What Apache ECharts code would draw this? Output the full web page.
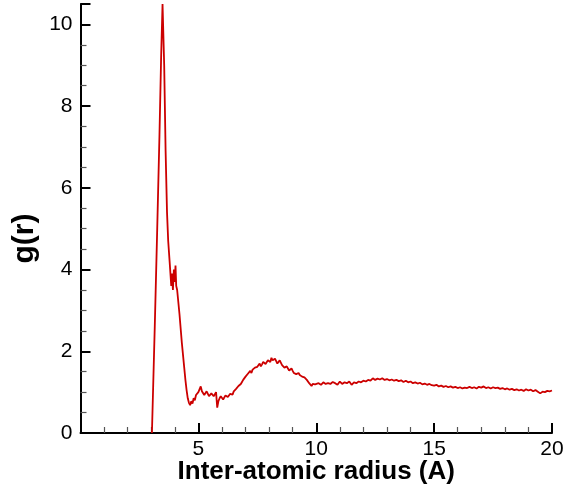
<!DOCTYPE html>
<html>
<head>
<meta charset="utf-8">
<script src="https://cdn.jsdelivr.net/npm/echarts@6/dist/echarts.min.js"></script>
<style>
html,body{margin:0;padding:0;background:#fff;}
#chart{width:564px;height:487px;}
</style>
</head>
<body>
<div id="chart"></div>
<script>
const xTitle = 'Inter-atomic radius (A)';
const yTitle = 'g(r)';
const radius = [
3.03,3.15,3.25,3.35,3.42,3.48,3.50,3.55,3.61,3.67,3.72,3.78,3.82,3.85,3.88,3.92,3.96,4.00,4.03,4.06,4.10,
4.20,4.30,4.40,4.45,4.50,4.55,4.60,4.65,4.70,4.75,4.80,4.85,4.90,4.95,5.00,5.05,5.10,5.15,5.20,5.25,5.30,5.35,5.40,5.45,5.50,5.55,5.60,5.65,5.70,5.75,5.80,5.85,5.90,5.95,
6.00,6.05,6.10,6.15,6.20,6.25,6.30,6.35,6.40,6.45,6.50,6.55,6.60,6.65,6.70,6.75,6.80,6.85,6.90,6.95,7.00,7.05,7.10,7.15,7.20,7.25,7.30,7.35,7.40,7.45,7.50,7.55,7.60,7.65,7.70,7.75,7.80,7.85,7.90,7.95,
8.00,8.05,8.10,8.15,8.20,8.25,8.30,8.35,8.40,8.45,8.50,8.55,8.60,8.65,8.70,8.75,8.80,8.85,8.90,8.95,9.00,9.05,9.10,9.15,9.20,9.25,9.30,9.35,9.40,9.45,9.50,9.55,9.60,9.65,9.70,9.75,9.80,9.85,9.90,9.95,
10.0,10.1,10.2,10.3,10.4,10.5,10.6,10.7,10.8,10.9,11.0,11.1,11.2,11.3,11.4,11.5,11.6,11.7,11.8,11.9,
12.0,12.1,12.2,12.3,12.4,12.5,12.6,12.7,12.8,12.9,13.0,13.1,13.2,13.3,13.4,13.5,13.6,13.7,13.8,13.9,
14.0,14.1,14.2,14.3,14.4,14.5,14.6,14.7,14.8,14.9,15.0,15.1,15.2,15.3,15.4,15.5,15.6,15.7,15.8,15.9,
16.0,16.1,16.2,16.3,16.4,16.5,16.6,16.7,16.8,16.9,17.0,17.1,17.2,17.3,17.4,17.5,17.6,17.7,17.8,17.9,
18.0,18.1,18.2,18.3,18.4,18.5,18.6,18.7,18.8,18.9,19.0,19.1,19.2,19.3,19.4,19.5,19.6,19.7,19.8,19.9,20.0
];
const gr = [
0,2.6,4.9,7.3,9.2,10.5,10.5,9.0,6.9,5.4,4.7,4.2,4.2,3.6,3.9,3.5,4.0,3.7,4.1,3.6,3.5,
2.9,2.2,1.6,1.3,1.05,0.85,0.74,0.68,0.78,0.72,0.85,0.8,0.93,0.9,1.0,0.96,1.14,1.02,1.0,0.93,0.95,1.02,0.98,0.9,0.88,0.97,0.95,0.9,0.92,1.0,0.62,0.78,0.85,0.9,
0.88,0.82,0.85,0.92,0.95,0.88,0.92,0.96,0.98,0.94,1.02,1.06,1.08,1.04,1.15,1.12,1.2,1.25,1.3,1.28,1.38,1.34,1.45,1.42,1.52,1.47,1.55,1.51,1.6,1.56,1.62,1.66,1.7,1.63,1.68,1.74,1.75,1.69,1.72,1.78,
1.8,1.74,1.84,1.78,1.76,1.82,1.8,1.7,1.72,1.78,1.76,1.66,1.65,1.6,1.6,1.63,1.58,1.53,1.55,1.58,1.52,1.47,1.48,1.44,1.45,1.47,1.42,1.38,1.38,1.34,1.36,1.39,1.3,1.33,1.22,1.25,1.15,1.2,1.24,1.19,
1.2,1.22,1.18,1.24,1.2,1.22,1.2,1.25,1.22,1.18,1.26,1.2,1.24,1.22,1.26,1.18,1.24,1.22,1.26,1.24,
1.28,1.26,1.3,1.28,1.34,1.3,1.33,1.31,1.34,1.3,1.32,1.29,1.31,1.28,1.3,1.27,1.29,1.25,1.28,1.24,
1.26,1.22,1.24,1.21,1.23,1.19,1.21,1.18,1.2,1.17,1.16,1.18,1.14,1.16,1.13,1.15,1.12,1.14,1.11,1.13,
1.1,1.12,1.09,1.11,1.1,1.13,1.1,1.12,1.09,1.13,1.11,1.14,1.1,1.12,1.09,1.12,1.1,1.11,1.08,1.1,
1.07,1.09,1.06,1.08,1.05,1.07,1.04,1.06,1.03,1.07,1.04,1.06,1.02,1.05,1.01,0.97,1.01,1.0,1.03,1.02,1.04
];
const xTicks = [5, 10, 15, 20];
const yTicks = [0, 2, 4, 6, 8, 10];

const chart = echarts.init(document.getElementById('chart'), null, {renderer: 'canvas'});
const font = '"Liberation Sans", Arial, Helvetica, sans-serif';
const axisCommon = {
  axisLine: {show: true, onZero: false, lineStyle: {color: '#000', width: 2}},
  axisTick: {show: true, inside: true, length: 10, lineStyle: {color: '#000', width: 2}},
  splitLine: {show: false},
  minorSplitLine: {show: false},
  nameMoveOverlap: false
};
chart.setOption({
  animation: false,
  backgroundColor: '#fff',
  grid: {left: 80.5, right: 12, top: 4, bottom: 54, containLabel: false, outerBoundsMode: 'none'},
  xAxis: Object.assign({
    type: 'value', min: 0, max: 20, interval: 5,
    name: xTitle, nameLocation: 'middle', nameGap: 26,
    nameTextStyle: {fontFamily: font, fontSize: 26, fontWeight: 'bold', color: '#000'},
    axisLabel: {
      fontFamily: font, fontSize: 21, color: '#000', margin: 6,
      formatter: v => xTicks.includes(v) ? String(v) : ''
    }
  }, axisCommon, {minorTick: {show: true, splitNumber: 5, length: 6, lineStyle: {color: '#555', width: 1.2}}}),
  yAxis: Object.assign({
    type: 'value', min: 0, max: 10.5, interval: 2,
    name: yTitle, nameLocation: 'middle', nameGap: 41,
    nameTextStyle: {fontFamily: font, fontSize: 30, fontWeight: 'bold', color: '#000', padding: [0, 40, 0, 0]},
    axisLabel: {
      fontFamily: font, fontSize: 21, color: '#000', margin: 8,
      formatter: v => yTicks.includes(v) ? String(v) : ''
    }
  }, axisCommon, {minorTick: {show: true, splitNumber: 4, length: 6, lineStyle: {color: '#555', width: 1.2}}}),
  series: [{
    type: 'line',
    data: radius.map((r, i) => [r, gr[i]]),
    showSymbol: false,
    symbol: 'none',
    clip: true,
    lineStyle: {color: '#cc0000', width: 1.8},
    itemStyle: {color: '#cc0000'}
  }]
});
</script>
</body>
</html>
